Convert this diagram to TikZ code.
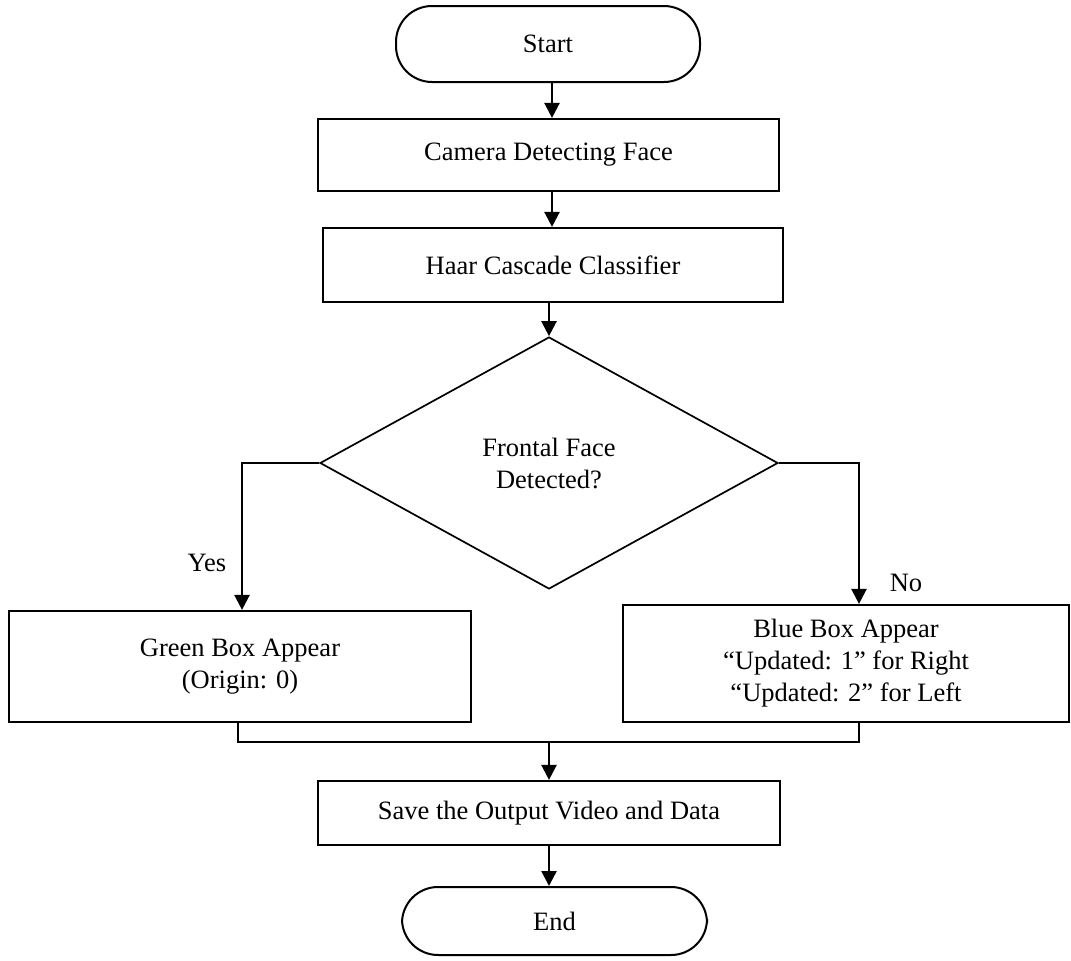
\documentclass[tikz,border=0pt]{standalone}
\usepackage{fontspec}
\setmainfont{Liberation Serif}
\usetikzlibrary{arrows.meta,shapes.geometric}
\begin{document}
\begin{tikzpicture}[x=1pt,y=-1pt,
  every node/.style={font=\fontsize{26.5}{32}\selectfont, align=center, inner sep=0pt},
  term/.style={draw, line width=2pt, rounded corners=36pt},
  procbox/.style={draw, line width=2.2pt},
  decision/.style={draw, diamond, aspect=1.8, line width=1.7pt},
  arr/.style={line width=2.4pt, -{Triangle[length=15pt,width=15pt]}},
  plain/.style={line width=2pt}
]
\useasboundingbox (0,0) rectangle (1071,961);

\node[term, minimum width=304pt, minimum height=76pt] (start) at (548,44) {Start};
\node[procbox, minimum width=461pt, minimum height=72pt] (camera) at (548.5,155) {Camera Detecting Face};
\node[procbox, minimum width=460pt, minimum height=74pt] (haar) at (553,265) {Haar Cascade Classifier};
\node[decision, minimum width=458pt, minimum height=252pt] (dia) at (549,463) {Frontal Face\\Detected?};
\node[procbox, minimum width=462pt, minimum height=111pt] (green) at (240,666.5) {Green Box Appear\\(Origin: 0)};
\node[procbox, minimum width=446pt, minimum height=117pt] (blue) at (846,663.5) {Blue Box Appear\\“Updated: 1” for Right\\“Updated: 2” for Left};
\node[procbox, minimum width=462pt, minimum height=64pt] (save) at (549,813) {Save the Output Video and Data};
\node[term, minimum width=305pt, minimum height=68pt] (end) at (554.5,921) {End};

\node (yes) at (207,563) {Yes};
\node (no) at (906,583) {No};

\coordinate (nocol) at (859,0);
\coordinate (mL) at (238,742);
\coordinate (mR) at (859,742);

\draw[arr] (start.south -| 552,0) -- (camera.north -| 552,0);
\draw[arr] (camera.south -| 552,0) -- (haar.north -| 552,0);
\draw[arr] (haar.south -| 549,0) -- (dia.north);
\draw[arr] (dia.west) -| (green.north -| 242,0);
\draw[arr] (dia.east) -| (nocol |- blue.north);
\draw[plain] (mL |- green.south) -- (mL) -- (mR) -- (mR |- blue.south);
\draw[arr] (save.north |- mL) -- (save.north);
\draw[arr] (save.south) -- (save.south |- end.north);
\end{tikzpicture}
\end{document}
